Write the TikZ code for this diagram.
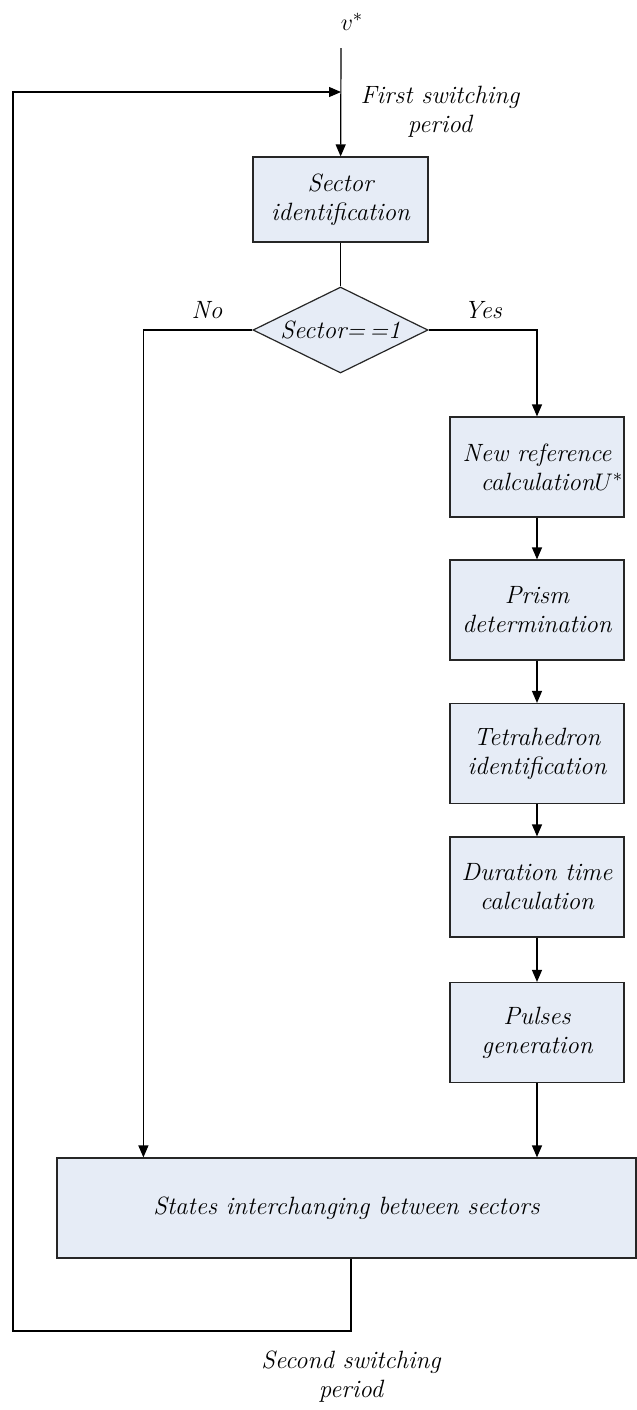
\documentclass[tikz,border=0pt]{standalone}
\usepackage{fontspec}
\usetikzlibrary{shapes.geometric,arrows.meta}
\definecolor{boxfill}{RGB}{230,236,246}
\begin{document}
\begin{tikzpicture}[x=0.5pt,y=-0.5pt,font=\fontsize{12.5}{14.5}\selectfont\itshape,
    blk/.style={draw=black!85,fill=boxfill,line width=0.6pt,align=center,
      inner sep=0pt,minimum width=87pt,minimum height=50pt},
    dec/.style={draw=black!85,fill=boxfill,line width=0.6pt,diamond,aspect=2,
      inner sep=0pt,minimum width=87.5pt,minimum height=43pt},
    arr/.style={-{Triangle[length=6pt,width=5pt]},line width=0.6pt},
    lin/.style={line width=0.6pt}]
  \useasboundingbox (0,0) rectangle (637,1410);

  \node (vin) at (352,22) {$v^{*}$};
  \coordinate (vtop) at (341,48);
  \node[blk,minimum width=87.5pt,minimum height=42.5pt] (sector) at (340.5,199.5) {Sector\\identification};
  \node[dec] (check) at (340.5,330) {Sector=\,=1};
  \node (no) at (207,310) {No};
  \node (yes) at (483,310) {Yes};

  \node[blk] (newref) at (537,467) {New reference\\\hspace*{1.2em}calculation$U^{*}$};
  \node[blk] (prism) at (537,610) {Prism\\determination};
  \node[blk] (tetra) at (537,753.5) {Tetrahedron\\identification};
  \node[blk] (duration) at (537,887) {Duration time\\calculation};
  \node[blk] (pulses) at (537,1032.5) {Pulses\\generation};
  \node[blk,minimum width=289.5pt] (states) at (346.5,1208) {States interchanging between sectors};

  \node[align=center] (first) at (440,112) {First switching\\period};
  \node[align=center] (second) at (351,1377) {Second switching\\period};
  \coordinate (lowleft) at (13,1331);
  \coordinate (loop) at (341,92);

  \draw[arr] (vtop) -- (sector);
  \draw[lin] (sector) -- (check);
  \draw[arr] (check.west) -| ([xshift=43.5pt]states.north west);
  \draw[arr] (check.east) -| (newref.north);
  \foreach \a/\b in {newref/prism,prism/tetra,tetra/duration,duration/pulses}{
    \draw[arr] (\a) -- (\b);
  }
  \draw[arr] (pulses) -- (pulses |- states.north);
  \draw[arr] ([xshift=2.25pt]states.south) |- (lowleft) |- (loop);

\end{tikzpicture}
\end{document}
